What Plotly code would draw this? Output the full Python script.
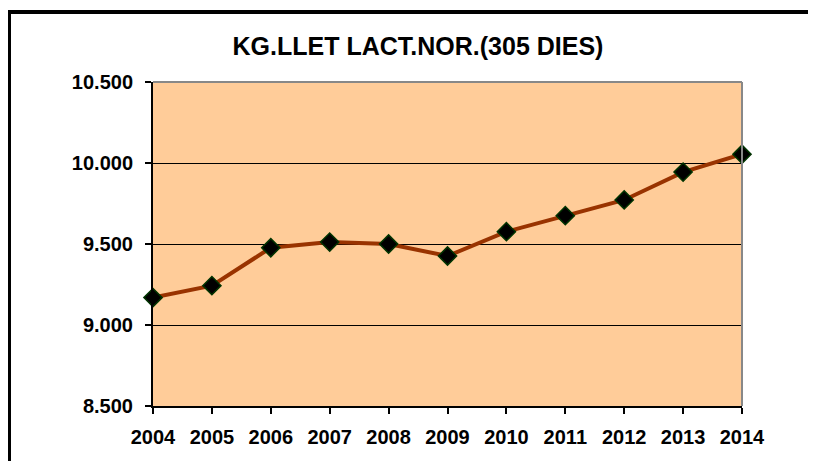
import plotly.graph_objects as go

years = [2004, 2005, 2006, 2007, 2008, 2009, 2010, 2011, 2012, 2013, 2014]
kg_llet = [9169, 9243, 9477, 9512, 9500, 9426, 9576, 9675, 9772, 9944, 10054]
y_ticks = [8500, 9000, 9500, 10000, 10500]

W, H = 816, 461
OFF = 8  # page body margin shifts the figure by 8px
ML, MR, MT, MB = 153 - OFF, 74 + OFF, 82 - OFF, 55 + OFF
pw, ph = W - ML - MR, H - MT - MB


def px_x(x):
    return (x - OFF - ML) / pw


def px_y(y):
    return (H - MB - (y - OFF)) / ph


fig = go.Figure()
fig.add_trace(go.Scatter(
    x=years, y=kg_llet, mode='lines+markers',
    line=dict(color='#993300', width=4),
    marker=dict(symbol='diamond', size=14, color='#000000',
                line=dict(color='#003300', width=1.5)),
    cliponaxis=False, showlegend=False,
))

font = dict(family='Liberation Sans, Arial, sans-serif', color='#000000')

fig.update_layout(
    width=W, height=H,
    margin=dict(l=ML, r=MR, t=MT, b=MB),
    paper_bgcolor='#ffffff', plot_bgcolor='#FFCC99',
    title=dict(text='<b>KG.LLET LACT.NOR.(305 DIES)</b>', x=(418 - OFF) / W, xanchor='center',
               y=1 - (46 - OFF) / H, yanchor='middle', font=dict(size=25, **font)),
    xaxis=dict(range=[2004, 2014], tickmode='array', tickvals=years,
               ticktext=['<b>%d</b>' % y for y in years],
               showgrid=False, zeroline=False,
               showline=True, linecolor='#000000', linewidth=2,
               ticks='outside', ticklen=6, tickwidth=1.5, tickcolor='#000000',
               ticklabelstandoff=6,
               tickfont=dict(size=20, **font)),
    yaxis=dict(range=[8500, 10500], tickmode='array', tickvals=y_ticks,
               ticktext=['<b>%s</b>' % f'{v:,}'.replace(',', '.') for v in y_ticks],
               showgrid=True, gridcolor='#000000', gridwidth=1, zeroline=False,
               showline=True, linecolor='#000000', linewidth=2,
               ticks='outside', ticklen=6, tickwidth=1.5, tickcolor='#000000',
               ticklabelstandoff=8,
               tickfont=dict(size=20, **font)),
)

# grey top and right edges of the plot area
fig.add_shape(type='line', xref='paper', yref='paper', x0=0, x1=1, y0=1, y1=1,
              line=dict(color='#888888', width=2), layer='above')
fig.add_shape(type='line', xref='paper', yref='paper', x0=1, x1=1, y0=0, y1=1,
              line=dict(color='#888888', width=2), layer='above')

# outer chart frame (only top and left visible)
fig.add_shape(type='line', xref='paper', yref='paper',
              x0=px_x(9), x1=px_x(W + 40), y0=px_y(12), y1=px_y(12),
              line=dict(color='#000000', width=4))
fig.add_shape(type='line', xref='paper', yref='paper',
              x0=px_x(9), x1=px_x(9), y0=px_y(10), y1=px_y(H + 40),
              line=dict(color='#000000', width=4))

fig.write_html('out.html')
